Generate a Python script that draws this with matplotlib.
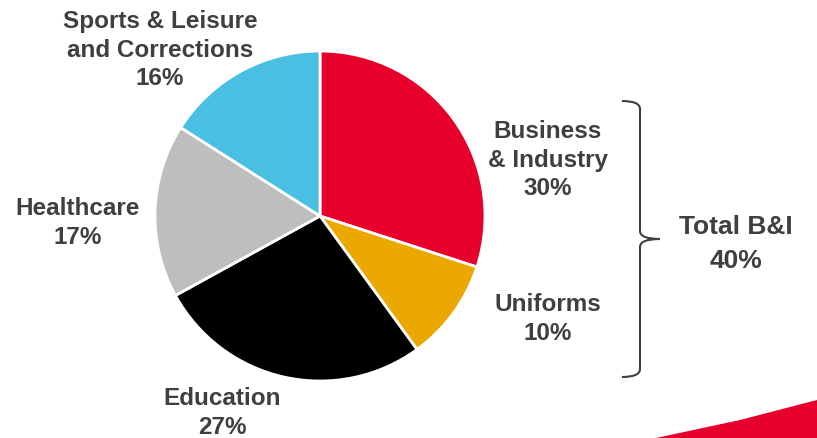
import matplotlib
matplotlib.use("Agg")
import matplotlib.pyplot as plt
from matplotlib.path import Path
from matplotlib.patches import PathPatch, Polygon

# segment shares, clockwise from 12 o'clock
segments = ["Business\n& Industry", "Uniforms", "Education", "Healthcare",
            "Sports & Leisure\nand Corrections"]
shares = [30, 10, 27, 17, 16]
colors = ["#E8002D", "#EBA800", "#000000", "#BEBEBE", "#49C0E1"]
total_label = "Total B&I"
total_share = 40

# label anchor points (pixels, top-left origin)
label_xy = [(548, 160), (548, 319), (222, 413), (78, 223), (160, 50)]

W, H = 817, 439
fig = plt.figure(figsize=(W / 100, H / 100), dpi=100)
ax = fig.add_axes([0, 0, 1, 1])

txt = "#3F3F3F"
font = dict(family="Liberation Sans", weight="bold", color=txt)

ax.pie(shares, colors=colors, startangle=90, counterclock=False,
       center=(320, H - 217), radius=165, frame=True,
       wedgeprops=dict(edgecolor="white", linewidth=2))
ax.set_xlim(0, W)
ax.set_ylim(0, H)
ax.set_aspect("equal")
ax.axis("off")

for name, val, (x, y) in zip(segments, shares, label_xy):
    ax.text(x, H - y, f"{name}\n{val}%", ha="center", va="center",
            fontsize=17.5, linespacing=1.28, **font)

# curly brace grouping Business & Industry with Uniforms
top, bot, mid = H - 102, H - 378, H - 240
xl, xb, xt = 622, 640, 660
verts = [(xl, top), (xb, top), (xb, top - 8),
         (xb, mid + 8),
         (xb, mid), (xt, mid), (xt, mid),
         (xb, mid), (xb, mid - 8),
         (xb, bot + 8),
         (xb, bot), (xl, bot)]
codes = [Path.MOVETO, Path.CURVE3, Path.CURVE3,
         Path.LINETO,
         Path.CURVE3, Path.CURVE3, Path.MOVETO,
         Path.CURVE3, Path.CURVE3,
         Path.LINETO,
         Path.CURVE3, Path.CURVE3]
ax.add_patch(PathPatch(Path(verts, codes), fill=False, edgecolor=txt, lw=1.5))

ax.text(736, H - 244, f"{total_label}\n{total_share}%", ha="center",
        va="center", fontsize=19, linespacing=1.55, **font)

# red swoosh in the corner
ax.add_patch(Polygon([(656, 0), (740, H - 421), (W, H - 401), (W, 0)],
                     closed=True, facecolor="#E8002D", edgecolor="none"))

fig.savefig("out.png", dpi=100)
